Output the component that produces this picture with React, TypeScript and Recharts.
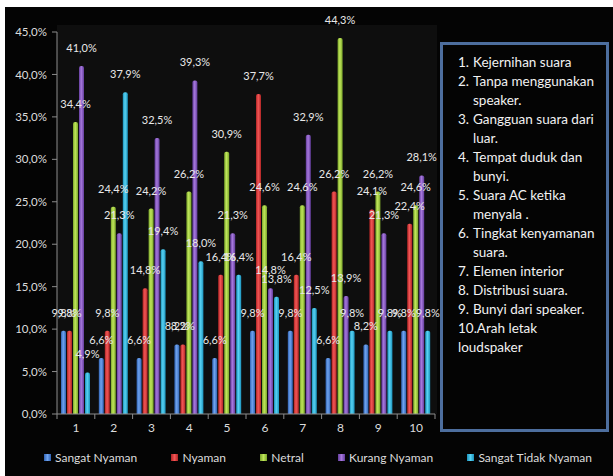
import { BarChart, Bar, XAxis, YAxis, LabelList } from 'recharts';

const categories = ['1', '2', '3', '4', '5', '6', '7', '8', '9', '10'];
const seriesNames = ['Sangat Nyaman', 'Nyaman', 'Netral', 'Kurang Nyaman', 'Sangat Tidak Nyaman'];
const sangatNyaman      = [9.8, 6.6, 6.6, 8.2, 6.6, 9.8, 9.8, 6.6, 8.2, 9.8];
const nyaman            = [9.8, 9.8, 14.8, 8.2, 16.4, 37.7, 16.4, 26.2, 24.1, 22.4];
const netral            = [34.4, 24.4, 24.2, 26.2, 30.9, 24.6, 24.6, 44.3, 26.2, 24.6];
const kurangNyaman      = [41.0, 21.3, 32.5, 39.3, 21.3, 14.8, 32.9, 13.9, 21.3, 28.1];
const sangatTidakNyaman = [4.9, 37.9, 19.4, 18.0, 16.4, 13.8, 12.5, 9.8, 9.8, 9.8];
const yTicks = [0, 5, 10, 15, 20, 25, 30, 35, 40, 45];
const notes = [
  ['1.', 'Kejernihan suara'],
  ['2.', 'Tanpa menggunakan\nspeaker.'],
  ['3.', 'Gangguan suara dari\nluar.'],
  ['4.', 'Tempat duduk dan\nbunyi.'],
  ['5.', 'Suara AC ketika\nmenyala .'],
  ['6.', 'Tingkat kenyamanan\nsuara.'],
  ['7.', 'Elemen interior'],
  ['8.', 'Distribusi suara.'],
  ['9.', 'Bunyi dari speaker.'],
];
const lastNote = '10.Arah letak\nloudspaker';

// [edge, middle] colours of each bar gradient
const colors = [
  ['#2f62b4', '#6fa3ee'],
  ['#b02424', '#f25656'],
  ['#7aa52a', '#c0e65a'],
  ['#633c9c', '#a678dc'],
  ['#1a92bc', '#58d2f2'],
];

const FONT = 'Lato, "Open Sans", sans-serif';
const allSeries = [sangatNyaman, nyaman, netral, kurangNyaman, sangatTidakNyaman];
const data = categories.map((c, i) => {
  const row: Record<string, string | number> = { cat: c };
  allSeries.forEach((s, k) => { row['s' + k] = s[i]; });
  return row;
});

const pct = (v: number) => v.toFixed(1).replace('.', ',') + '%';

const CatTick = (p: any) => {
  const { x, y, payload, index } = p;
  const count = p.visibleTicksCount || categories.length;
  const band = (p.width || 378) / count;
  return (
    <g>
      <line x1={x - band / 2} x2={x - band / 2} y1={y - 5} y2={y} stroke="#8c8c8c" />
      {index === count - 1 && (
        <line x1={x + band / 2} x2={x + band / 2} y1={y - 5} y2={y} stroke="#8c8c8c" />
      )}
      <text x={x} y={y + 13} textAnchor="middle" fill="#dcdcdc" fontSize={12} fontFamily={FONT}>
        {payload.value}
      </text>
    </g>
  );
};

export default function App() {
  return (
    <div style={{ position: 'absolute', left: 0, top: 0, width: 613, height: 476, background: '#fff', overflow: 'hidden' }}>
      <div style={{ position: 'absolute', left: 5, top: 7, right: 0, bottom: 0, background: '#040404' }} />
      <div style={{ position: 'absolute', left: 57, top: 25, width: 380, height: 389, background: '#0e0e0e' }} />
      <div style={{ position: 'absolute', left: 0, top: 0 }}>
        <BarChart width={613} height={476} data={data} barSize={5} barGap={1}
          margin={{ top: 32, right: 178, bottom: 42, left: 0 }}>
          <defs>
            {colors.map(([edge, mid], k) => (
              <linearGradient key={k} id={'g' + k} x1="0" y1="0" x2="1" y2="0">
                <stop offset="0%" stopColor={edge} />
                <stop offset="45%" stopColor={mid} />
                <stop offset="100%" stopColor={edge} />
              </linearGradient>
            ))}
          </defs>
          <YAxis
            width={57} domain={[0, 45]} ticks={yTicks} interval={0}
            tickFormatter={pct} tickSize={5} tickMargin={5}
            stroke="#8c8c8c" tick={{ fill: '#dcdcdc', fontSize: 11.5, fontFamily: FONT }}
          />
          <XAxis
            dataKey="cat" height={20} interval={0} tickSize={5} tickMargin={0}
            tickLine={false} stroke="#8c8c8c" tick={<CatTick />}
          />
          {allSeries.map((_, k) => (
            <Bar key={k} dataKey={'s' + k} name={seriesNames[k]} fill={`url(#g${k})`}
              radius={[2, 2, 0, 0]} isAnimationActive={false}>
              <LabelList dataKey={'s' + k} position="top" offset={14} formatter={(v: any) => pct(Number(v))}
                fill="#e8e8e8" fontSize={11} fontFamily={FONT} />
            </Bar>
          ))}
        </BarChart>
      </div>

      <div style={{
        position: 'absolute', left: 44, top: 450, width: 548, display: 'flex',
        justifyContent: 'space-between', fontFamily: FONT, fontSize: 12, color: '#dcdcdc',
      }}>
        {seriesNames.map((n, k) => (
          <div key={n} style={{ display: 'flex', alignItems: 'center' }}>
            <span style={{
              width: 7, height: 7, marginRight: 4, display: 'inline-block',
              background: `linear-gradient(90deg, ${colors[k][0]}, ${colors[k][1]}, ${colors[k][0]})`,
            }} />
            {n}
          </div>
        ))}
      </div>

      <div style={{
        position: 'absolute', left: 440, top: 42, width: 169, height: 390, boxSizing: 'border-box',
        border: '3px solid #4d6e9e', padding: '8px 0 0 15px', fontFamily: FONT, fontSize: 13.5,
        lineHeight: '19px', color: '#f2f2f2', whiteSpace: 'pre-line',
      }}>
        {notes.map(([num, txt]) => (
          <div key={num} style={{ display: 'flex' }}>
            <span style={{ width: 15, flex: 'none' }}>{num}</span>
            <span style={{ whiteSpace: 'pre' }}>{txt}</span>
          </div>
        ))}
        <div style={{ whiteSpace: 'pre' }}>{lastNote}</div>
      </div>
    </div>
  );
}
